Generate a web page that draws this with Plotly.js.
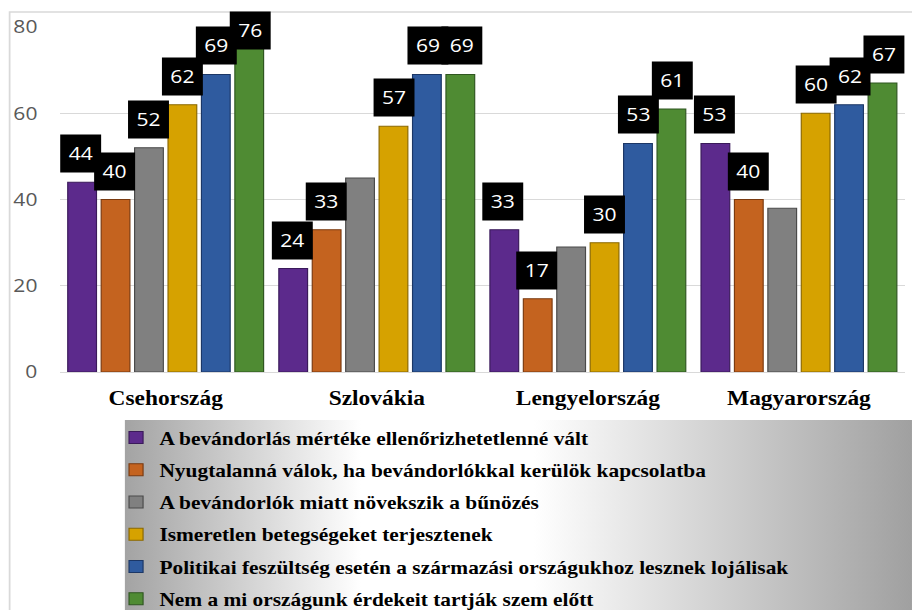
<!DOCTYPE html>
<html><head><meta charset="utf-8">
<script src="https://cdn.plot.ly/plotly-3.0.1.min.js"></script>
<style>
body{margin:0;background:#fff;overflow:hidden}
#wrap{width:912px;height:610px;overflow:hidden}
#c{width:780px;height:610px;transform:scaleX(1.16923);transform-origin:0 0}
</style>
</head><body><div id="wrap"><div id="c"></div></div>
<script>
const categories = ['Csehország', 'Szlovákia', 'Lengyelország', 'Magyarország'];
const seriesNames = [
  'A bevándorlás mértéke ellenőrizhetetlenné vált',
  'Nyugtalanná válok, ha bevándorlókkal kerülök kapcsolatba',
  'A bevándorlók miatt növekszik a bűnözés',
  'Ismeretlen betegségeket terjesztenek',
  'Politikai feszültség esetén a származási országukhoz lesznek lojálisak',
  'Nem a mi országunk érdekeit tartják szem előtt'
];
const s1 = [44, 24, 33, 53];
const s2 = [40, 33, 17, 40];
const s3 = [52, 45, 29, 38];
const s4 = [62, 57, 30, 60];
const s5 = [69, 69, 53, 62];
const s6 = [76, 69, 61, 67];
// which data labels are shown (per series, per category)
const labelShown = [
  [true, true, true, true],
  [true, true, true, true],
  [true, false, false, false],
  [true, true, true, true],
  [true, true, true, true],
  [true, true, true, true]
];
const yTicks = [0, 20, 40, 60, 80];
const colors = ['#5c2a8c', '#c4631f', '#808080', '#d6a200', '#2f5b9f', '#4f8b33'];
const lineColors = ['#3a1a5a', '#7a3a10', '#4a4a4a', '#8a6800', '#1c3766', '#2f5620'];

const S = 912 / 780;            // horizontal stretch of the rendered page
const u = X => X / S;           // reference px -> layout px (horizontal)
const W = 780, H = 610;
const plotL = u(60), plotR = u(905), plotT = 27, plotB = 372;
const px2x = X => (u(X) - plotL) / (plotR - plotL);
const px2y = Y => (plotB - Y) / (plotB - plotT);

const values = [s1, s2, s3, s4, s5, s6];
const traces = values.map((v, i) => ({
  type: 'bar', x: categories, y: v, name: seriesNames[i],
  legendgroup: 'g' + i,
  marker: {color: colors[i], line: {color: lineColors[i], width: 1}},
  hoverinfo: 'skip'
}));

const annotations = [];
values.forEach((v, i) => {
  v.forEach((val, j) => {
    if (!labelShown[i][j]) return;
    annotations.push({
      x: categories[j], y: Math.min(val, 72.6), xref: 'x', yref: 'y',
      text: String(val), showarrow: false,
      xshift: (i - 2.5) * u(34), yshift: 9, yanchor: 'bottom',
      bgcolor: '#000000', width: 32, height: 35, borderpad: 1,
      font: {family: 'Open Sans, sans-serif', size: 18, color: '#ffffff'}
    });
  });
});

const grad = 'data:image/svg+xml;utf8,' + encodeURIComponent(
  '<svg xmlns="http://www.w3.org/2000/svg" width="100" height="100" preserveAspectRatio="none">' +
  '<defs><linearGradient id="g" x1="0" x2="1" y1="0" y2="0">' +
  '<stop offset="0" stop-color="#a3a3a3"/><stop offset="0.3" stop-color="#ffffff"/>' +
  '<stop offset="0.52" stop-color="#ffffff"/><stop offset="1" stop-color="#a0a0a0"/>' +
  '</linearGradient></defs><rect width="100" height="100" fill="url(#g)"/></svg>');

const layout = {
  width: W, height: H,
  margin: {l: plotL, r: W - plotR, t: plotT, b: H - plotB, pad: 0, autoexpand: false},
  paper_bgcolor: '#ffffff', plot_bgcolor: '#ffffff',
  barmode: 'group', bargap: 0.05, bargroupgap: 0.14,
  xaxis: {
    type: 'category', showgrid: false, showline: true, linecolor: '#d9d9d9', linewidth: 1,
    ticks: '', ticklabelstandoff: 8,
    tickfont: {family: 'Liberation Serif, Times New Roman, serif', size: 20, color: '#000000', weight: 'bold'}
  },
  yaxis: {
    range: [0, 80], tickvals: yTicks, ticktext: yTicks.map(String),
    showgrid: true, gridcolor: '#d9d9d9', gridwidth: 1, zeroline: false, showline: false,
    ticks: '', ticklabelstandoff: 18,
    tickfont: {family: 'Open Sans, sans-serif', size: 18, color: '#595959'}
  },
  showlegend: true,
  legend: {
    x: px2x(113), y: px2y(419), xanchor: 'left', yanchor: 'top',
    bgcolor: 'rgba(0,0,0,0)', borderwidth: 0, tracegroupgap: 5.5, traceorder: 'grouped',
    font: {family: 'Liberation Serif, Times New Roman, serif', size: 18.3, color: '#000000', weight: 'bold'},
    itemclick: false
  },
  images: [{
    source: grad, xref: 'paper', yref: 'paper',
    x: px2x(125), y: px2y(420), sizex: px2x(912) - px2x(125), sizey: px2y(420) - px2y(615),
    sizing: 'stretch', xanchor: 'left', yanchor: 'top', layer: 'below'
  }],
  shapes: [{
    type: 'rect', xref: 'paper', yref: 'paper',
    x0: px2x(10), x1: px2x(930), y0: px2y(640), y1: px2y(12),
    line: {color: '#d9d9d9', width: 1.5}, fillcolor: 'rgba(0,0,0,0)', layer: 'below'
  }],
  annotations: annotations
};

Plotly.newPlot('c', traces, layout, {displayModeBar: false, staticPlot: true});
</script></body></html>
